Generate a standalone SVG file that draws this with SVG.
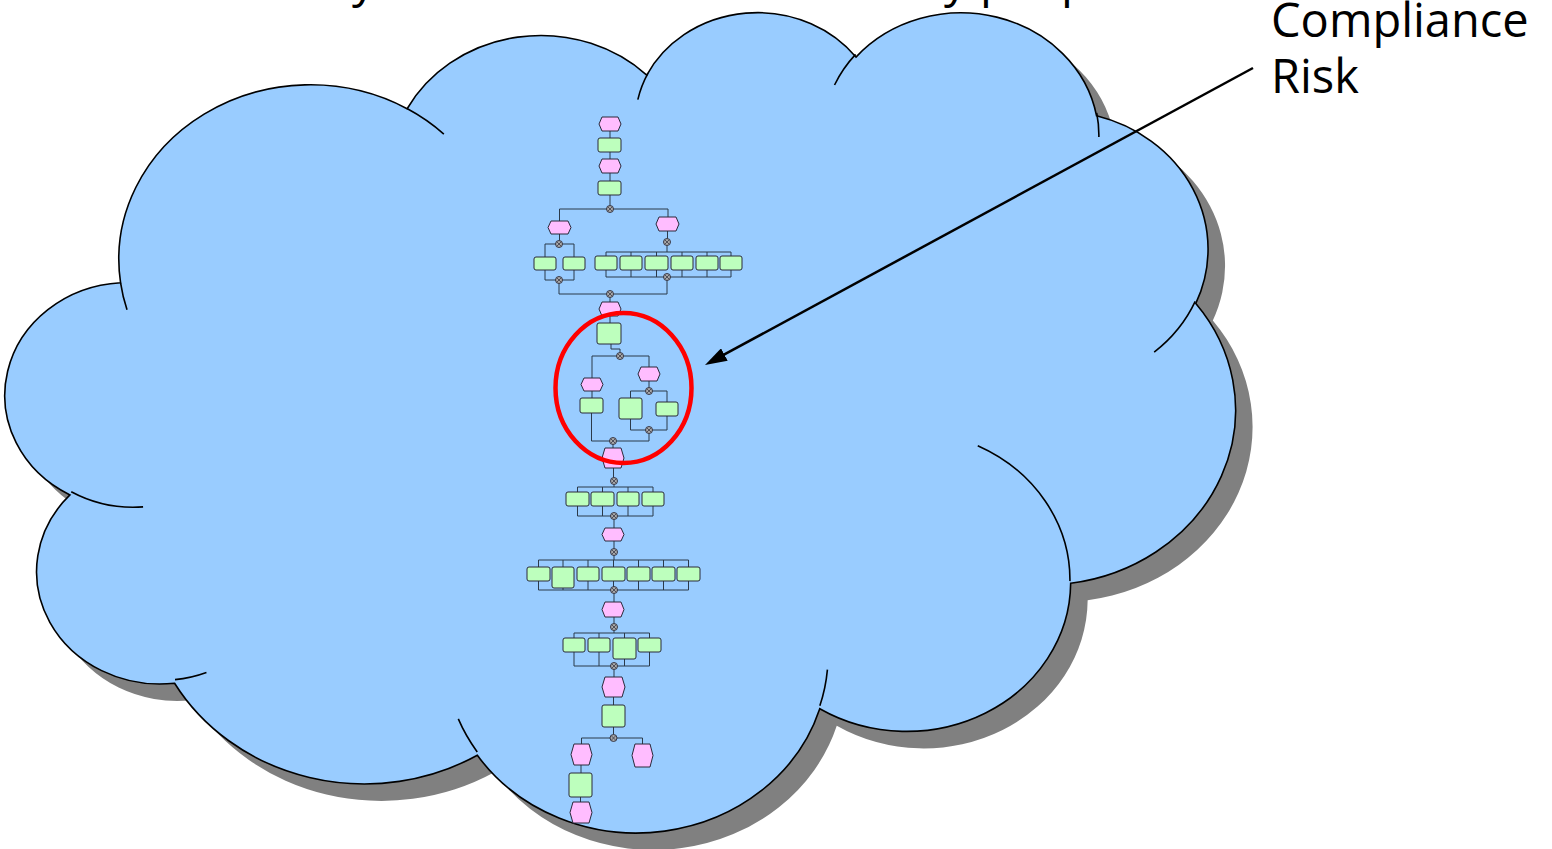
<svg xmlns="http://www.w3.org/2000/svg" xmlns:xlink="http://www.w3.org/1999/xlink" width="1552" height="849" viewBox="0 0 1552 849">
  <style>
    .label { font-family: "Open Sans", "Noto Sans", "Liberation Sans", sans-serif; font-size: 47px; fill: #000; }
    .cloud-fill { fill: #99CCFF; stroke: #000; stroke-width: 1.6; }
    .cloud-shadow { fill: #808080; stroke: none; }
    .cloud-inner { fill: none; stroke: #000; stroke-width: 1.6; }
    .event { fill: #FFBDFF; stroke: #2a2a3a; stroke-width: 1; }
    .func { fill: #BDFFBD; stroke: #2a2a3a; stroke-width: 1; }
    .flow { fill: none; stroke: #2b3a4a; stroke-width: 1; }
    .conn-c { fill: #A8A8A8; stroke: #2a2a3a; stroke-width: 0.9; }
    .conn-x { fill: none; stroke: #2a2a3a; stroke-width: 0.7; }
    .mark { fill: none; stroke: #FF0000; stroke-width: 4.5; }
    .pointer { fill: none; stroke: #000; stroke-width: 2.5; }
  </style>
  <defs>
    <g id="xor">
      <circle class="conn-c" cx="0" cy="0" r="3.5"/>
      <path class="conn-x" d="M-2,-2 L2,2 M2,-2 L-2,2"/>
    </g>
    <marker id="arrowHead" markerUnits="userSpaceOnUse" viewBox="0 0 22 14" refX="12" refY="7" markerWidth="22" markerHeight="14" orient="auto">
      <path d="M0,0 L22,7 L0,14 Z" fill="#000"/>
    </marker>
  </defs>

  <!-- heading line running off the top edge -->
  <g id="heading">
    <text class="label" x="352" y="-3">y</text>
    <text class="label" x="944" y="-3">y</text>
    <text class="label" x="980" y="-3">p</text>
    <text class="label" x="1061" y="-3">p</text>
  </g>

  <!-- cloud with drop shadow; outline drawn in a 43200 x 43200 unit box -->
  <g id="cloud">
    <path class="cloud-shadow" transform="matrix(0.028356 0 0 0.018981 27 27)" d="M3900,14370 A6753,9190 0 0 1 14005,5202 A5333,7267 0 0 1 22456,3431 A4365,5945 0 0 1 29834,2481 A4857,6595 0 0 1 38319,5576 A5333,7273 0 0 1 41819,15460 A6775,9220 0 0 1 37405,30204 A5785,7867 0 0 1 28557,36814 A6752,9215 0 0 1 16481,39264 A7720,10543 0 0 1 5804,35470 A4360,5918 0 0 1 2114,25548 A4345,5945 0 0 1 3900,14370 Z"/>
    <path class="cloud-fill" vector-effect="non-scaling-stroke" transform="matrix(0.028356 0 0 0.018981 10 10)" d="M3900,14370 A6753,9190 0 0 1 14005,5202 A5333,7267 0 0 1 22456,3431 A4365,5945 0 0 1 29834,2481 A4857,6595 0 0 1 38319,5576 A5333,7273 0 0 1 41819,15460 A6775,9220 0 0 1 37405,30204 A5785,7867 0 0 1 28557,36814 A6752,9215 0 0 1 16481,39264 A7720,10543 0 0 1 5804,35470 A4360,5918 0 0 1 2114,25548 A4345,5945 0 0 1 3900,14370 Z"/>
    <path class="cloud-inner" vector-effect="non-scaling-stroke" transform="matrix(0.028356 0 0 0.018981 10 10)" d="M4693,26177 A4345,5945 0 0 1 2160,25380 M6928,34899 A4360,5918 0 0 1 5819,35281 M16478,39090 A6752,9215 0 0 1 15810,37350 M28827,34751 A6752,9215 0 0 1 28560,36660 M34129,22954 A5785,7867 0 0 1 37380,30089 M41798,15354 A5333,7273 0 0 1 40351,18028 M38324,5426 A4857,6595 0 0 1 38400,6690 M29078,3952 A4857,6595 0 0 1 29820,2340 M22141,4720 A4365,5945 0 0 1 22500,3330 M14000,5192 A6753,9190 0 0 1 15300,6541 M4127,15789 A6753,9190 0 0 1 3900,14371"/>
  </g>

  <!-- process chain: control flow -->
  <g id="connectors" class="flow">
    <path d="M610,131V138 M610,152V159 M610,173V181 M610,195V205.5"/>
    <path d="M559.5,221V209H668V217"/>
    <path d="M559.5,234V240.5 M545,257V244H574V257 M545,270V280H574V270"/>
    <path d="M667.5,231V238.5 M667,245.5V252"/>
    <path d="M606,256V252H731V256 M631,252V256 M656.5,252V256 M682,252V256 M707,252V256"/>
    <path d="M606,270V277H731V270 M631,270V277 M656.5,270V277 M682,270V277 M707,270V277"/>
    <path d="M559,283.5V294H667V280.5"/>
    <path d="M610,297.5V302 M610,316V323 M611,344V349H620V352.5"/>
    <path d="M592,378V356H649V367"/>
    <path d="M592,391V398 M591.5,413V441H649V433.5"/>
    <path d="M649,381V387.5 M630.5,398V391H667V402 M630.5,419V430H667V416"/>
    <path d="M613,444.5V448 M613.5,468V477.5 M614,484.5V487"/>
    <path d="M577.5,492V487H653V492 M602.5,487V492 M628,487V492"/>
    <path d="M577.5,506V516H653V506 M602.5,506V516 M628,506V516"/>
    <path d="M614,519.5V528 M614,541V548.5 M614,555.5V560"/>
    <path d="M538.5,567V560H688.5V567 M563,560V567 M588,560V567 M613.5,560V567 M638.5,560V567 M663.5,560V567"/>
    <path d="M538.5,581V590H688.5V581 M563,588V590 M588,581V590 M613.5,581V590 M638.5,581V590 M663.5,581V590"/>
    <path d="M614,593.5V602 M614,617V623.5 M614,630.5V633"/>
    <path d="M574,638V633H649.5V638 M599,633V638 M624.5,633V638"/>
    <path d="M574,652V666H649.5V652 M599,652V666 M624.5,659V666"/>
    <path d="M614,669.5V677 M613.5,697V705 M613.5,727V734.5"/>
    <path d="M581.5,744V738H642.5V744 M581,765V773 M580.5,797V802"/>
  </g>

  <!-- process chain: events -->
  <g id="ev1"><polygon class="event" points="602,117 618,117 621,124 618,131 602,131 599,124"/></g>
  <g id="ev2"><polygon class="event" points="602,159 618,159 621,166 618,173 602,173 599,166"/></g>
  <g id="ev3a"><polygon class="event" points="551,221 568,221 571,227.5 568,234 551,234 548,227.5"/></g>
  <g id="ev3b"><polygon class="event" points="659,217 676,217 679,224 676,231 659,231 656,224"/></g>
  <g id="ev4"><polygon class="event" points="602,302 618,302 621,309 618,316 602,316 599,309"/></g>
  <g id="ev5a"><polygon class="event" points="584,378 600,378 603,384.5 600,391 584,391 581,384.5"/></g>
  <g id="ev5b"><polygon class="event" points="641,367 657,367 660,374 657,381 641,381 638,374"/></g>
  <g id="ev6"><polygon class="event" points="605,448 621,448 624,458 621,468 605,468 602,458"/></g>
  <g id="ev7"><polygon class="event" points="605,528 621,528 624,534.5 621,541 605,541 602,534.5"/></g>
  <g id="ev8"><polygon class="event" points="605,602 621,602 624,609.5 621,617 605,617 602,609.5"/></g>
  <g id="ev9"><polygon class="event" points="605,677 622,677 625,687 622,697 605,697 602,687"/></g>
  <g id="ev10a"><polygon class="event" points="574,744 589,744 592,754.5 589,765 574,765 571,754.5"/></g>
  <g id="ev10b"><polygon class="event" points="635,744 650,744 653,755.5 650,767 635,767 632,755.5"/></g>
  <g id="ev11"><polygon class="event" points="573,802 589,802 592,812.5 589,823 573,823 570,812.5"/></g>

  <!-- process chain: functions -->
  <g id="fn1"><rect class="func" x="598" y="138" width="23" height="14" rx="2"/></g>
  <g id="fn2"><rect class="func" x="598" y="181" width="23" height="14" rx="2"/></g>
  <g id="fn3a"><rect class="func" x="534" y="257" width="22" height="13" rx="2"/></g>
  <g id="fn3b"><rect class="func" x="563" y="257" width="22" height="13" rx="2"/></g>
  <g id="fn4a"><rect class="func" x="595" y="256" width="22" height="14" rx="2"/></g>
  <g id="fn4b"><rect class="func" x="620" y="256" width="22" height="14" rx="2"/></g>
  <g id="fn4c"><rect class="func" x="645" y="256" width="23" height="14" rx="2"/></g>
  <g id="fn4d"><rect class="func" x="671" y="256" width="22" height="14" rx="2"/></g>
  <g id="fn4e"><rect class="func" x="696" y="256" width="22" height="14" rx="2"/></g>
  <g id="fn4f"><rect class="func" x="720" y="256" width="22" height="14" rx="2"/></g>
  <g id="fn5"><rect class="func" x="597" y="323" width="24" height="21" rx="2"/></g>
  <g id="fn6a"><rect class="func" x="580" y="398" width="23" height="15" rx="2"/></g>
  <g id="fn6b"><rect class="func" x="619" y="398" width="23" height="21" rx="2"/></g>
  <g id="fn6c"><rect class="func" x="656" y="402" width="22" height="14" rx="2"/></g>
  <g id="fn7a"><rect class="func" x="566" y="492" width="23" height="14" rx="2"/></g>
  <g id="fn7b"><rect class="func" x="591" y="492" width="23" height="14" rx="2"/></g>
  <g id="fn7c"><rect class="func" x="617" y="492" width="22" height="14" rx="2"/></g>
  <g id="fn7d"><rect class="func" x="642" y="492" width="22" height="14" rx="2"/></g>
  <g id="fn8a"><rect class="func" x="527" y="567" width="23" height="14" rx="2"/></g>
  <g id="fn8b"><rect class="func" x="552" y="567" width="22" height="21" rx="2"/></g>
  <g id="fn8c"><rect class="func" x="577" y="567" width="22" height="14" rx="2"/></g>
  <g id="fn8d"><rect class="func" x="602" y="567" width="23" height="14" rx="2"/></g>
  <g id="fn8e"><rect class="func" x="627" y="567" width="23" height="14" rx="2"/></g>
  <g id="fn8f"><rect class="func" x="652" y="567" width="23" height="14" rx="2"/></g>
  <g id="fn8g"><rect class="func" x="677" y="567" width="23" height="14" rx="2"/></g>
  <g id="fn9a"><rect class="func" x="563" y="638" width="22" height="14" rx="2"/></g>
  <g id="fn9b"><rect class="func" x="588" y="638" width="22" height="14" rx="2"/></g>
  <g id="fn9c"><rect class="func" x="613" y="638" width="23" height="21" rx="2"/></g>
  <g id="fn9d"><rect class="func" x="638" y="638" width="23" height="14" rx="2"/></g>
  <g id="fn10"><rect class="func" x="602" y="705" width="23" height="22" rx="2"/></g>
  <g id="fn11"><rect class="func" x="569" y="773" width="23" height="24" rx="2"/></g>

  <!-- process chain: logical operators -->
  <g id="op1"><use href="#xor" xlink:href="#xor" x="610" y="209"/></g>
  <g id="op2"><use href="#xor" xlink:href="#xor" x="559" y="244"/></g>
  <g id="op3"><use href="#xor" xlink:href="#xor" x="667" y="242"/></g>
  <g id="op4"><use href="#xor" xlink:href="#xor" x="559" y="280"/></g>
  <g id="op5"><use href="#xor" xlink:href="#xor" x="667" y="277"/></g>
  <g id="op6"><use href="#xor" xlink:href="#xor" x="610" y="294"/></g>
  <g id="op7"><use href="#xor" xlink:href="#xor" x="620" y="356"/></g>
  <g id="op8"><use href="#xor" xlink:href="#xor" x="649" y="391"/></g>
  <g id="op9"><use href="#xor" xlink:href="#xor" x="649" y="430"/></g>
  <g id="op10"><use href="#xor" xlink:href="#xor" x="613" y="441"/></g>
  <g id="op11"><use href="#xor" xlink:href="#xor" x="614" y="481"/></g>
  <g id="op12"><use href="#xor" xlink:href="#xor" x="614" y="516"/></g>
  <g id="op13"><use href="#xor" xlink:href="#xor" x="614" y="552"/></g>
  <g id="op14"><use href="#xor" xlink:href="#xor" x="614" y="590"/></g>
  <g id="op15"><use href="#xor" xlink:href="#xor" x="614" y="627"/></g>
  <g id="op16"><use href="#xor" xlink:href="#xor" x="614" y="666"/></g>
  <g id="op17"><use href="#xor" xlink:href="#xor" x="613.5" y="738"/></g>

  <!-- highlighted section -->
  <g id="highlight">
    <ellipse class="mark" cx="623.5" cy="388" rx="68" ry="75"/>
  </g>

  <!-- callout -->
  <g id="callout">
    <line class="pointer" x1="1253" y1="68" x2="713.8" y2="360.2" marker-end="url(#arrowHead)"/>
  </g>
  <g id="callout-label">
    <text class="label" x="1271" y="37">Compliance</text>
    <text class="label" x="1271" y="93">Risk</text>
  </g>
</svg>
